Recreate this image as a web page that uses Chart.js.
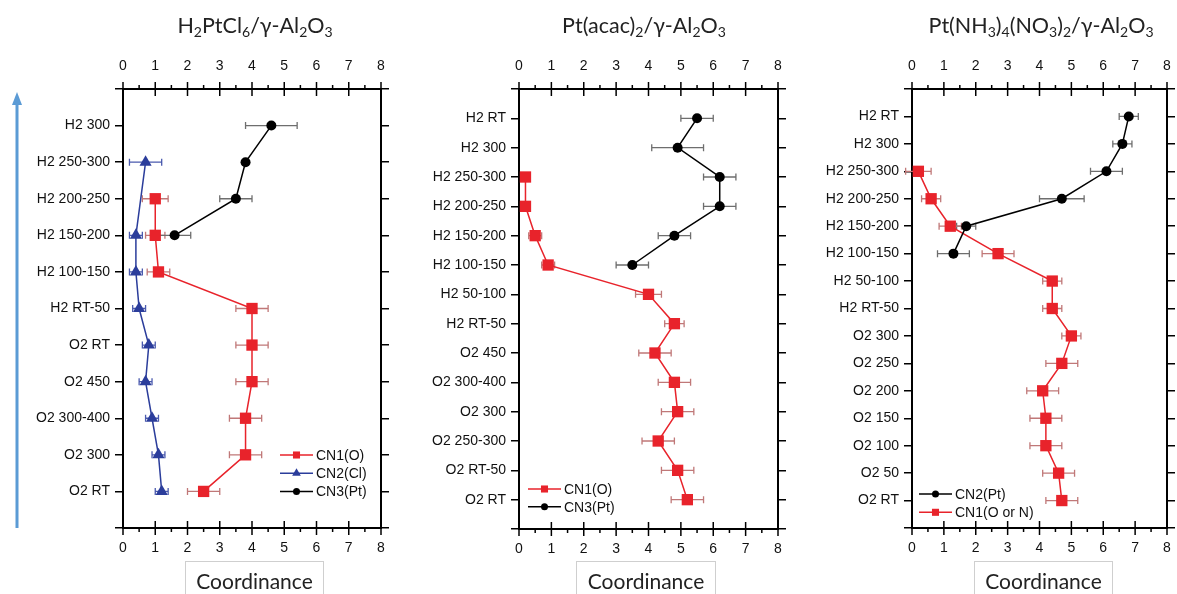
<!DOCTYPE html>
<html><head><meta charset="utf-8">
<script src="https://cdn.jsdelivr.net/npm/chart.js@4.4.1/dist/chart.umd.min.js"></script>
<style>
html,body{margin:0;padding:0;background:#fff;width:1177px;height:594px;overflow:hidden;}
body{position:relative;}
canvas{position:absolute;top:0;}
.title{position:absolute;top:12px;font-family:Lato,"Open Sans",sans-serif;font-size:21.5px;color:#222;white-space:nowrap;transform:translateX(-50%);line-height:26px;}
.title sub{font-size:14px;vertical-align:-4px;line-height:0;}
.xbox{position:absolute;top:561px;height:40px;border:1px solid #cfcfcf;font-family:Lato,"Open Sans",sans-serif;font-size:21px;text-align:center;line-height:38px;color:#222;box-sizing:border-box;}
svg{position:absolute;left:0;top:0;}
</style></head>
<body>
<svg width="40" height="594"><line x1="17" y1="528" x2="17" y2="102" stroke="#5B9BD5" stroke-width="3"/><polygon points="17,92 12,105 22,105" fill="#5B9BD5"/></svg>
<canvas id="c1" width="390" height="594" style="left:0px"></canvas>
<canvas id="c2" width="400" height="594" style="left:390px"></canvas>
<canvas id="c3" width="387" height="594" style="left:790px"></canvas>
<div class="title" style="left:255px">H<sub>2</sub>PtCl<sub>6</sub>/γ-Al<sub>2</sub>O<sub>3</sub></div>
<div class="title" style="left:644px">Pt(acac)<sub>2</sub>/γ-Al<sub>2</sub>O<sub>3</sub></div>
<div class="title" style="left:1041px">Pt(NH<sub>3</sub>)<sub>4</sub>(NO<sub>3</sub>)<sub>2</sub>/γ-Al<sub>2</sub>O<sub>3</sub></div>
<div class="xbox" style="left:185px;width:139px">Coordinance</div>
<div class="xbox" style="left:576px;width:140px">Coordinance</div>
<div class="xbox" style="left:974px;width:139px">Coordinance</div>
<script>
// ---- Data ----
const xTicks = [0,1,2,3,4,5,6,7,8];

const cats1 = ['H2 300','H2 250-300','H2 200-250','H2 150-200','H2 100-150','H2 RT-50','O2 RT','O2 450','O2 300-400','O2 300','O2 RT'];
const p1CN1 = [null,null,1.0,1.0,1.1,4.0,4.0,4.0,3.8,3.8,2.5];
const p1CN1err = [null,null,0.4,0.3,0.35,0.5,0.5,0.5,0.5,0.5,0.5];
const p1CN2 = [null,0.7,null,0.4,0.4,0.5,0.8,0.7,0.9,1.1,1.2];
const p1CN2err = [null,0.5,null,0.2,0.2,0.2,0.2,0.2,0.2,0.2,0.2];
const p1CN3 = [4.6,3.8,3.5,1.6,null,null,null,null,null,null,null];
const p1CN3err = [0.8,0,0.5,0.5,null,null,null,null,null,null,null];

const cats2 = ['H2 RT','H2 300','H2 250-300','H2 200-250','H2 150-200','H2 100-150','H2 50-100','H2 RT-50','O2 450','O2 300-400','O2 300','O2 250-300','O2 RT-50','O2 RT'];
const p2CN1 = [null,null,0.2,0.2,0.5,0.9,4.0,4.8,4.2,4.8,4.9,4.3,4.9,5.2];
const p2CN1err = [null,null,0,0,0.2,0.2,0.4,0.3,0.5,0.5,0.5,0.5,0.5,0.5];
const p2CN3 = [5.5,4.9,6.2,6.2,4.8,3.5,null,null,null,null,null,null,null,null];
const p2CN3err = [0.5,0.8,0.5,0.5,0.5,0.5,null,null,null,null,null,null,null,null];

const cats3 = ['H2 RT','H2 300','H2 250-300','H2 200-250','H2 150-200','H2 100-150','H2 50-100','H2 RT-50','O2 300','O2 250','O2 200','O2 150','O2 100','O2 50','O2 RT'];
const p3CN2 = [6.8,6.6,6.1,4.7,1.7,1.3,null,null,null,null,null,null,null,null,null];
const p3CN2err = [0.3,0.3,0.5,0.7,0.3,0.5,null,null,null,null,null,null,null,null,null];
const p3CN1 = [null,null,0.2,0.6,1.2,2.7,4.4,4.4,5.0,4.7,4.1,4.2,4.2,4.6,4.7];
const p3CN1err = [null,null,0.4,0.3,0.35,0.5,0.3,0.3,0.3,0.5,0.5,0.5,0.5,0.5,0.5];

// ---- Styles ----
const RED = '#E8232B', BLUE = '#2B3D9B', BLACK = '#000000';
const RED_ERR = '#C07878', BLUE_ERR = '#4A5AAE', BLACK_ERR = '#6E6E6E';
const tickFont = {family:'"Liberation Sans", Arial, sans-serif', size:14};
const TXT = '#111';

function pts(vals){ const out=[]; vals.forEach((v,i)=>{ if(v!==null) out.push({x:v,y:i}); }); return out; }
function errs(vals, e){ const out=[]; vals.forEach((v,i)=>{ if(v!==null) out.push(e[i]||0); }); return out; }

function ds(label, vals, e, color, errColor, style, radius, legendRadius){
  return {label, data:pts(vals), errors:errs(vals,e), errColor,
    borderColor:color, backgroundColor:color, pointBackgroundColor:color, pointBorderColor:color,
    borderWidth:1.5, pointStyle:style, pointRadius:radius, pointHoverRadius:radius, pointBorderWidth:0,
    legendRadius, showLine:true, fill:false, tension:0};
}

function drawMarker(ctx, style, x, y, r, color){
  ctx.save(); ctx.fillStyle=color; ctx.beginPath();
  if(style==='rect'){ const s=r*Math.SQRT1_2; ctx.rect(x-s,y-s,2*s,2*s); }
  else if(style==='triangle'){ ctx.moveTo(x, y-r); ctx.lineTo(x+r*0.866, y+r*0.5); ctx.lineTo(x-r*0.866, y+r*0.5); ctx.closePath(); }
  else { ctx.arc(x,y,r,0,Math.PI*2); }
  ctx.fill(); ctx.restore();
}

const errorBarPlugin = {
  id:'errorBars',
  beforeDatasetsDraw(chart){
    const ctx=chart.ctx, xs=chart.scales.x, ys=chart.scales.y;
    chart.data.datasets.forEach(d=>{
      ctx.save(); ctx.strokeStyle=d.errColor; ctx.lineWidth=1.3;
      d.data.forEach((p,i)=>{
        const e=d.errors[i]; if(!e) return;
        const x1=xs.getPixelForValue(p.x-e), x2=xs.getPixelForValue(p.x+e), y=ys.getPixelForValue(p.y);
        ctx.beginPath(); ctx.moveTo(x1,y); ctx.lineTo(x2,y);
        ctx.moveTo(x1,y-3.5); ctx.lineTo(x1,y+3.5);
        ctx.moveTo(x2,y-3.5); ctx.lineTo(x2,y+3.5);
        ctx.stroke();
      });
      ctx.restore();
    });
  }
};

const xTickPlugin = {
  id:'xTickMarks',
  afterDraw(chart){
    const ctx=chart.ctx;
    ['x','x2'].forEach(id=>{
      const s=chart.scales[id]; const top = s.position==='top';
      const yLine = top ? s.bottom : s.top;
      ctx.save(); ctx.strokeStyle='#000'; ctx.lineWidth=1.5;
      for(let v=0; v<=8; v+=0.5){
        const px=s.getPixelForValue(v);
        ctx.beginPath();
        if(Number.isInteger(v)){ ctx.moveTo(px,yLine-7); ctx.lineTo(px,yLine+7); }
        else { const d= top?-4:4; ctx.moveTo(px,yLine); ctx.lineTo(px,yLine+d); }
        ctx.stroke();
      }
      ctx.restore();
    });
  }
};

const innerLegendPlugin = {
  id:'innerLegend',
  afterDraw(chart, args, opts){
    const ctx=chart.ctx;
    chart.data.datasets.forEach((d,i)=>{
      const y=opts.y+i*opts.gap, x=opts.x;
      ctx.save(); ctx.strokeStyle=d.borderColor; ctx.lineWidth=1.5;
      ctx.beginPath(); ctx.moveTo(x,y); ctx.lineTo(x+33,y); ctx.stroke(); ctx.restore();
      drawMarker(ctx, d.pointStyle, x+16.5, y, d.legendRadius, d.borderColor);
      ctx.save(); ctx.fillStyle=TXT; ctx.font='14px "Liberation Sans", Arial, sans-serif';
      ctx.textBaseline='middle'; ctx.textAlign='left'; ctx.fillText(d.label, x+36, y+1); ctx.restore();
    });
  }
};

function zeroPad(s){ s.paddingLeft=0; s.paddingRight=0; s.paddingTop=0; s.paddingBottom=0; }

function makeChart(id, cats, datasets, g){
  const yCommon = {type:'linear', reverse:true, min:-1, max:cats.length,
    grid:{drawOnChartArea:false, drawTicks:true, tickLength:8, color:'#000', lineWidth:1.5},
    border:{display:true, color:'#000', width:2}};
  const xCommon = {type:'linear', min:0, max:8,
    grid:{drawOnChartArea:false, drawTicks:false},
    border:{display:true, color:'#000', width:2}};
  return new Chart(document.getElementById(id), {
    type:'line',
    data:{datasets},
    options:{
      responsive:false, animation:false, maintainAspectRatio:false,
      layout:{padding:0},
      plugins:{legend:{display:false}, tooltip:{enabled:false}, innerLegend:g.legend},
      scales:{
        x:Object.assign({}, xCommon, {position:'bottom',
          ticks:{stepSize:1, padding:12, font:tickFont, color:TXT, callback:v=>xTicks.includes(v)?String(v):''},
          afterFit:s=>{s.height=g.botH; zeroPad(s);}}),
        x2:Object.assign({}, xCommon, {position:'top',
          ticks:{stepSize:1, padding:14, font:tickFont, color:TXT, callback:v=>xTicks.includes(v)?String(v):''},
          afterFit:s=>{s.height=g.topH; zeroPad(s);}}),
        y:Object.assign({}, yCommon, {position:'left',
          ticks:{stepSize:1, autoSkip:false, padding:5, font:tickFont, color:TXT, callback:v=>(cats[v]!==undefined?cats[v]:'')},
          afterFit:s=>{s.width=g.leftW; zeroPad(s);}}),
        y2:Object.assign({}, yCommon, {position:'right',
          ticks:{stepSize:1, autoSkip:false, display:false},
          afterFit:s=>{s.width=g.rightW; zeroPad(s);}})
      }
    },
    plugins:[errorBarPlugin, xTickPlugin, innerLegendPlugin]
  });
}

makeChart('c1', cats1, [
  ds('CN1(O)', p1CN1, p1CN1err, RED, RED_ERR, 'rect', 8, 5),
  ds('CN2(Cl)', p1CN2, p1CN2err, BLUE, BLUE_ERR, 'triangle', 7, 5),
  ds('CN3(Pt)', p1CN3, p1CN3err, BLACK, BLACK_ERR, 'circle', 5, 3.5)
], {leftW:123, rightW:9, topH:89, botH:66, legend:{x:280, y:455, gap:18.3}});

makeChart('c2', cats2, [
  ds('CN1(O)', p2CN1, p2CN1err, RED, RED_ERR, 'rect', 8, 5),
  ds('CN3(Pt)', p2CN3, p2CN3err, BLACK, BLACK_ERR, 'circle', 5, 3.5)
], {leftW:129, rightW:12, topH:89, botH:65, legend:{x:138, y:489, gap:17.7}});

makeChart('c3', cats3, [
  ds('CN2(Pt)', p3CN2, p3CN2err, BLACK, BLACK_ERR, 'circle', 5, 3.5),
  ds('CN1(O or N)', p3CN1, p3CN1err, RED, RED_ERR, 'rect', 8, 5)
], {leftW:122, rightW:10, topH:89, botH:66, legend:{x:129, y:494, gap:18.3}});
</script>
</body></html>
